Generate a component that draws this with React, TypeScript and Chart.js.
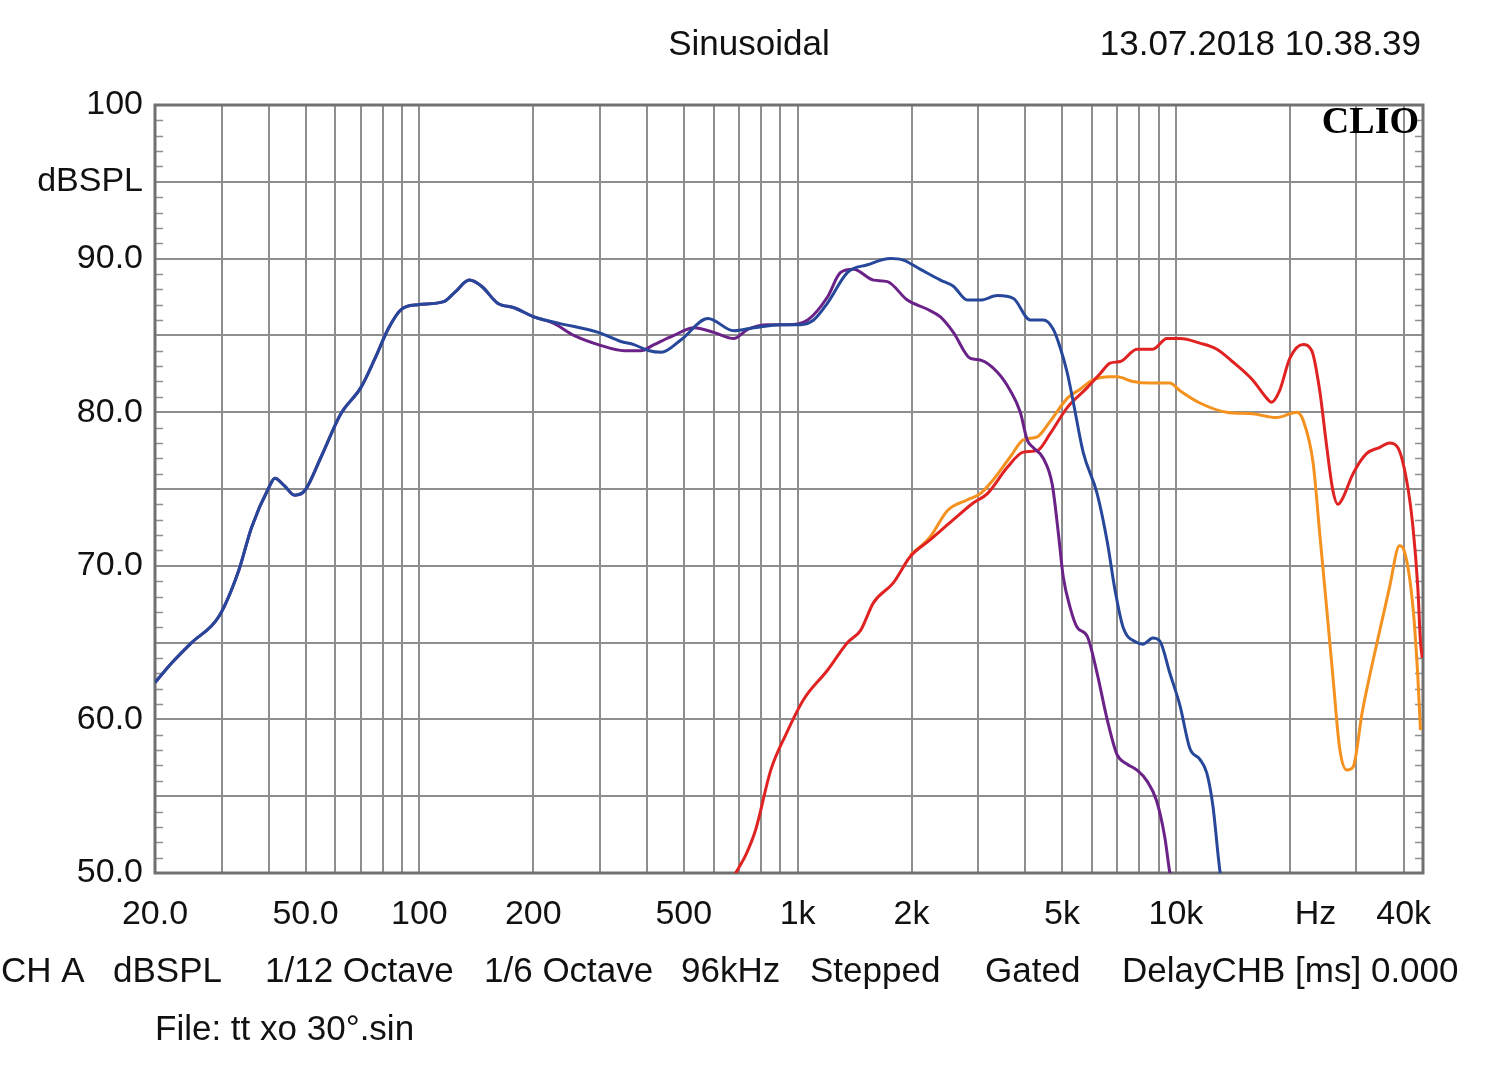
import React, { useEffect, useRef } from "react";
import { Chart, registerables } from "chart.js";

Chart.register(...registerables);

// ---------- data ----------
const blueFreq = [20, 22.2, 25, 29.5, 33.3, 36, 40, 41.5, 44, 46.8, 49.8, 55, 62, 70, 76, 83, 89.6, 99, 116, 124, 135.5, 146, 161, 178, 201, 233, 297, 341, 369, 405, 436, 491, 579, 678, 766, 902, 1018, 1102, 1199, 1355, 1530, 1760, 1903, 2112, 2385, 2580, 2812, 3040, 3374, 3720, 4121, 4460, 4740, 4945, 5157, 5350, 5685, 6190, 6580, 6905, 7250, 7890, 8180, 8690, 9070, 9640, 10250, 10890, 11570, 12070, 12520, 13060, 13200];
const blueDb = [62.4, 63.7, 65.0, 66.7, 69.7, 72.5, 75.1, 75.7, 75.2, 74.6, 74.9, 77.1, 79.9, 81.6, 83.4, 85.5, 86.7, 87.0, 87.2, 87.8, 88.6, 88.2, 87.1, 86.8, 86.2, 85.8, 85.2, 84.6, 84.4, 84.0, 83.9, 84.7, 86.1, 85.3, 85.5, 85.7, 85.7, 86.0, 87.1, 89.1, 89.6, 90.0, 89.9, 89.3, 88.6, 88.2, 87.3, 87.3, 87.6, 87.4, 86.0, 86.0, 85.4, 84.2, 82.6, 80.7, 77.4, 74.7, 71.6, 68.4, 66.0, 65.0, 64.9, 65.3, 65.1, 63.0, 60.9, 58.1, 57.4, 56.5, 54.4, 50.2, 49.5];

const purpleFreq = [20, 22.2, 25, 29.5, 33.3, 36, 40, 41.5, 44, 46.8, 49.8, 55, 62, 70, 76, 83, 89.6, 99, 116, 124, 135.5, 146, 161, 178, 201, 226, 256, 297, 348, 385, 417, 471, 532, 600, 678, 738, 833, 941, 1063, 1199, 1298, 1405, 1587, 1727, 1950, 2204, 2385, 2580, 2862, 3040, 3374, 3650, 3878, 4043, 4195, 4460, 4710, 4890, 5035, 5250, 5480, 5830, 6190, 6580, 6990, 7420, 7890, 8380, 8890, 9350, 9640, 9800];
const purpleDb = [62.4, 63.7, 65.0, 66.7, 69.7, 72.5, 75.1, 75.7, 75.2, 74.6, 74.9, 77.1, 79.9, 81.6, 83.4, 85.5, 86.7, 87.0, 87.2, 87.8, 88.6, 88.2, 87.1, 86.8, 86.2, 85.8, 85.0, 84.4, 84.0, 84.0, 84.4, 85.0, 85.5, 85.2, 84.8, 85.4, 85.7, 85.7, 86.0, 87.5, 89.1, 89.3, 88.6, 88.5, 87.3, 86.7, 86.2, 85.2, 83.5, 83.4, 82.6, 81.4, 80.0, 78.2, 77.7, 77.0, 75.3, 72.1, 69.3, 67.3, 66.0, 65.4, 63.0, 60.0, 57.7, 57.1, 56.7, 56.0, 54.7, 52.3, 50.0, 49.3];

const redFreq = [670, 686, 730, 774, 849, 930, 1037, 1199, 1355, 1467, 1587, 1792, 1985, 2243, 2580, 2917, 3175, 3580, 3950, 4300, 4650, 5160, 5830, 6300, 6700, 7130, 7890, 8690, 9470, 10250, 11570, 12830, 14100, 15950, 17400, 17900, 18800, 20000, 21670, 22870, 24000, 25000, 26000, 26800, 27600, 29400, 31900, 34500, 36700, 38600, 40700, 42300, 43600, 44300, 44800];
const redDb = [49.5, 50.0, 51.2, 52.8, 56.7, 59.0, 61.3, 63.2, 65.0, 65.8, 67.6, 68.9, 70.6, 71.7, 73.0, 74.1, 74.7, 76.4, 77.4, 77.5, 78.6, 80.3, 81.6, 82.5, 83.2, 83.3, 84.1, 84.1, 84.8, 84.8, 84.5, 84.1, 83.3, 82.1, 80.9, 80.65, 81.4, 83.5, 84.4, 84.0, 81.4, 77.9, 74.9, 74.0, 74.4, 76.0, 77.3, 77.7, 78.0, 77.7, 75.6, 72.6, 68.6, 65.1, 64.0];

const orangeFreq = [1985, 2243, 2490, 2812, 3040, 3290, 3650, 3950, 4300, 4650, 5160, 5580, 6040, 6700, 6990, 7700, 8540, 9640, 10250, 11570, 13610, 15950, 18430, 20900, 21670, 23050, 24000, 25000, 26000, 27100, 28300, 29400, 31100, 33800, 36700, 39000, 40100, 42300, 43600, 44300];
const orangeDb = [70.7, 71.9, 73.6, 74.3, 74.7, 75.6, 77.1, 78.2, 78.4, 79.4, 80.9, 81.5, 82.1, 82.3, 82.3, 82.0, 81.9, 81.9, 81.4, 80.6, 80.0, 79.9, 79.65, 80.0, 79.5, 76.7, 72.1, 67.4, 62.8, 58.1, 56.7, 56.9, 60.5, 64.7, 68.6, 71.3, 71.0, 67.4, 62.8, 59.3];

const xGridValues = [20, 30, 40, 50, 60, 70, 80, 90, 100, 200, 300, 400, 500, 600, 700, 800, 900, 1000, 2000, 3000, 4000, 5000, 6000, 7000, 8000, 9000, 10000, 20000, 30000, 40000];
const xLabelValues = [20, 50, 100, 200, 500, 1000, 2000, 5000, 10000, 23400, 40000];
const xLabelTexts = ["20.0", "50.0", "100", "200", "500", "1k", "2k", "5k", "10k", "Hz", "40k"];
const hzLabelFreq = 23400;

const yGridValues = [50, 55, 60, 65, 70, 75, 80, 85, 90, 95, 100];
const yLabelValues = [100, 95, 90, 80, 70, 60, 50];
const yLabelTexts = ["100", "dBSPL", "90.0", "80.0", "70.0", "60.0", "50.0"];

const headerTitle = "Sinusoidal";
const headerDate = "13.07.2018 10.38.39";
const footerItems = ["CH A", "dBSPL", "1/12 Octave", "1/6 Octave", "96kHz", "Stepped", "Gated", "DelayCHB [ms] 0.000"];
const footerX = [1, 113, 265, 484, 681, 810, 985, 1122];
const fileLine = "File: tt xo 30°.sin";

const FONT = "'Liberation Sans', Arial, sans-serif";
const GRID = "#8e8e8e";
const TEXT = "#111111";

export default function App() {
  const ref = useRef<HTMLCanvasElement>(null);

  useEffect(() => {
    const canvas = ref.current;
    if (!canvas) return;
    const pts = (f: number[], d: number[]) => f.map((x, i) => ({ x, y: d[i] }));

    const decor = {
      id: "decor",
      beforeDraw(chart: any) {
        const c = chart.ctx;
        c.save();
        c.fillStyle = "#ffffff";
        c.fillRect(0, 0, chart.width, chart.height);
        c.restore();
      },
      beforeDatasetsDraw(chart: any) {
        const c = chart.ctx;
        const a = chart.chartArea;
        const y = chart.scales.y;
        c.save();
        c.strokeStyle = GRID;
        c.lineWidth = 1.5;
        for (let v = 51; v < 100; v++) {
          if (v % 5 === 0) continue;
          const py = Math.round(y.getPixelForValue(v)) + 0.5;
          c.beginPath();
          c.moveTo(a.left, py);
          c.lineTo(a.left + 8, py);
          c.moveTo(a.right - 8, py);
          c.lineTo(a.right, py);
          c.stroke();
        }
        c.strokeStyle = "#707070";
        c.lineWidth = 3;
        c.strokeRect(a.left, a.top, a.right - a.left, a.bottom - a.top);
        c.restore();
      },
      afterDraw(chart: any) {
        const c = chart.ctx;
        c.save();
        c.fillStyle = TEXT;
        c.textBaseline = "middle";
        c.font = `35px ${FONT}`;
        c.textAlign = "center";
        c.fillText(headerTitle, 749, 45);
        c.textAlign = "right";
        c.fillText(headerDate, 1421, 45);
        c.textAlign = "left";
        footerItems.forEach((t, i) => c.fillText(t, footerX[i], 972));
        c.fillText(fileLine, 155, 1030);
        c.font = `bold 38px 'Liberation Serif', 'DejaVu Serif', serif`;
        c.textAlign = "right";
        c.fillStyle = "#000";
        c.fillText("CLIO", 1419, 123);
        c.restore();
      },
    };

    const chart = new Chart(canvas, {
      type: "line",
      data: {
        datasets: [
          { label: "blue", data: pts(blueFreq, blueDb), borderColor: "#26479a" },
          { label: "purple", data: pts(purpleFreq, purpleDb), borderColor: "#6b2288" },
          { label: "red", data: pts(redFreq, redDb), borderColor: "#e02222" },
          { label: "orange", data: pts(orangeFreq, orangeDb), borderColor: "#f4911f" },
        ].map((d) => ({
          ...d,
          borderWidth: 3,
          pointRadius: 0,
          fill: false,
          cubicInterpolationMode: "monotone" as const,
        })),
      },
      plugins: [decor],
      options: {
        animation: false,
        responsive: false,
        devicePixelRatio: 1,
        layout: { padding: { top: 105, right: 77, left: 0, bottom: 0 } },
        plugins: { legend: { display: false }, tooltip: { enabled: false }, title: { display: false } },
        scales: {
          x: {
            type: "logarithmic",
            min: 20,
            max: 45000,
            afterBuildTicks: (scale: any) => {
              scale.ticks = [...xGridValues, hzLabelFreq].sort((p, q) => p - q).map((v) => ({ value: v }));
            },
            afterFit: (scale: any) => {
              scale.height = 1074 - 873;
            },
            border: { display: false },
            grid: {
              color: (ctx: any) => (ctx.tick && ctx.tick.value === hzLabelFreq ? "rgba(0,0,0,0)" : GRID),
              lineWidth: 2,
              drawTicks: false,
            },
            ticks: {
              autoSkip: false,
              maxRotation: 0,
              minRotation: 0,
              padding: 21,
              color: TEXT,
              font: { family: FONT, size: 34 },
              callback: (v: any) => {
                const i = xLabelValues.indexOf(Number(v));
                return i >= 0 ? xLabelTexts[i] : "";
              },
            },
          },
          y: {
            type: "linear",
            min: 50,
            max: 100,
            afterBuildTicks: (scale: any) => {
              scale.ticks = yGridValues.map((v) => ({ value: v }));
            },
            afterFit: (scale: any) => {
              scale.width = 155;
            },
            border: { display: false },
            grid: { color: GRID, lineWidth: 2, drawTicks: false },
            ticks: {
              padding: 12,
              color: TEXT,
              font: { family: FONT, size: 34 },
              callback: (v: any) => {
                const i = yLabelValues.indexOf(Number(v));
                return i >= 0 ? yLabelTexts[i] : "";
              },
            },
          },
        },
      },
    } as any);

    return () => chart.destroy();
  }, []);

  return (
    <div style={{ position: "fixed", left: 0, top: 0, width: 1500, height: 1074, background: "#fff" }}>
      <canvas ref={ref} width={1500} height={1074} style={{ width: 1500, height: 1074, display: "block" }} />
    </div>
  );
}
